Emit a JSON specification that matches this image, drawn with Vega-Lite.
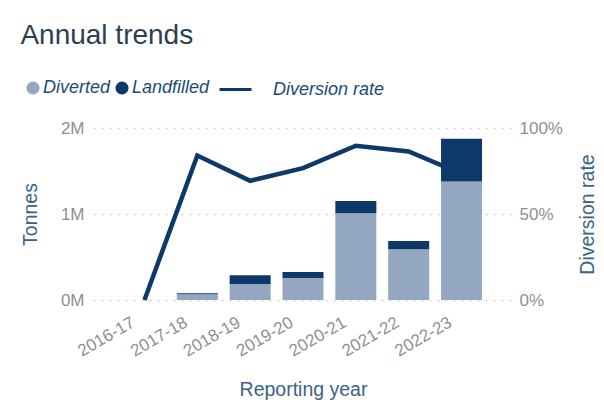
{
  "$schema": "https://vega.github.io/schema/vega-lite/v6.json",
  "width": 420,
  "height": 172,
  "padding": {"left": 20, "top": 22, "right": 2, "bottom": 2},
  "background": "white",
  "title": {
    "text": "Annual trends",
    "anchor": "start",
    "frame": "bounds",
    "fontSize": 28,
    "fontWeight": "normal",
    "font": "Liberation Sans",
    "color": "#2b3f53",
    "offset": 22
  },
  "data": {
    "values": [
      {"year": "2016-17", "Diverted": 0, "Landfilled": 0, "rate": 0},
      {"year": "2017-18", "Diverted": 66000, "Landfilled": 12000, "rate": 0.84},
      {"year": "2018-19", "Diverted": 186000, "Landfilled": 102000, "rate": 0.693},
      {"year": "2019-20", "Diverted": 256000, "Landfilled": 70000, "rate": 0.767},
      {"year": "2020-21", "Diverted": 1010000, "Landfilled": 140000, "rate": 0.897},
      {"year": "2021-22", "Diverted": 590000, "Landfilled": 97000, "rate": 0.864},
      {"year": "2022-23", "Diverted": 1378000, "Landfilled": 497000, "rate": 0.734}
    ]
  },
  "encoding": {
    "x": {
      "field": "year",
      "type": "ordinal",
      "scale": {"paddingInner": 0.224, "paddingOuter": 0.586},
      "axis": {
        "title": "Reporting year",
        "titleFont": "Liberation Sans",
        "titleFontSize": 19.5,
        "titleFontWeight": "normal",
        "titleColor": "#3a6386",
        "titlePadding": 21,
        "labelAngle": -30,
        "labelAlign": "right",
        "labelBaseline": "middle",
        "labelOffset": -11,
        "labelPadding": 21,
        "labelFont": "Liberation Sans",
        "labelFontSize": 17,
        "labelColor": "#8f8f8f",
        "ticks": false,
        "domain": false,
        "grid": false
      }
    }
  },
  "layer": [
    {
      "mark": {"type": "line", "strokeWidth": 4.5, "color": "#0c386a"},
      "encoding": {
        "y": {
          "field": "rate",
          "type": "quantitative",
          "scale": {"domain": [0, 1]},
          "axis": {
            "orient": "right",
            "title": "Diversion rate",
            "titleAngle": -90,
            "titleFont": "Liberation Sans",
            "titleFontSize": 19.5,
            "titleFontWeight": "normal",
            "titleColor": "#3a6386",
            "titlePadding": 35,
            "values": [0, 0.5, 1],
            "format": ".0%",
            "labelFont": "Liberation Sans",
            "labelFontSize": 17,
            "labelColor": "#8f8f8f",
            "labelPadding": 6,
            "ticks": false,
            "domain": false,
            "grid": false
          }
        },
        "stroke": {
          "datum": "Diversion rate",
          "type": "nominal",
          "scale": {"range": ["#0c386a"]},
          "legend": {
            "orient": "none",
            "legendX": 125,
            "legendY": -56,
            "title": null,
            "symbolType": "stroke",
            "symbolSize": 1024,
            "symbolStrokeWidth": 3,
            "labelOffset": 20,
            "labelFont": "Liberation Sans",
            "labelFontSize": 18,
            "labelFontStyle": "italic",
            "labelColor": "#1d4a7a",
            "padding": 0
          }
        }
      }
    },
    {
      "transform": [
        {"fold": ["Diverted", "Landfilled"], "as": ["type", "tonnes"]}
      ],
      "mark": {"type": "bar"},
      "encoding": {
        "y": {
          "field": "tonnes",
          "type": "quantitative",
          "stack": "zero",
          "scale": {"domain": [0, 2000000]},
          "axis": {
            "orient": "left",
            "title": "Tonnes",
            "titleFont": "Liberation Sans",
            "titleFontSize": 19.5,
            "titleFontWeight": "normal",
            "titleColor": "#3a6386",
            "titlePadding": 20,
            "values": [0, 1000000, 2000000],
            "labelExpr": "(datum.value / 1000000) + 'M'",
            "labelFont": "Liberation Sans",
            "labelFontSize": 17,
            "labelColor": "#8f8f8f",
            "labelPadding": 9,
            "ticks": false,
            "domain": false,
            "grid": true,
            "gridColor": "#cfcfcf",
            "gridDash": [2, 6],
            "gridWidth": 1.5
          }
        },
        "color": {
          "field": "type",
          "type": "nominal",
          "scale": {"domain": ["Diverted", "Landfilled"], "range": ["#93a8c0", "#0c386a"]},
          "legend": {
            "orient": "none",
            "legendX": -69,
            "legendY": -49,
            "title": null,
            "direction": "horizontal",
            "symbolType": "circle",
            "symbolSize": 170,
            "symbolOpacity": 1,
            "labelOffset": 1,
            "columnPadding": 2,
            "labelFont": "Liberation Sans",
            "labelFontSize": 18,
            "labelFontStyle": "italic",
            "labelColor": "#1d4a7a",
            "padding": 0
          }
        },
        "order": {"field": "type", "sort": "ascending"}
      }
    }
  ],
  "resolve": {"scale": {"y": "independent", "color": "independent"}},
  "config": {
    "view": {"stroke": null},
    "font": "Liberation Sans"
  }
}
